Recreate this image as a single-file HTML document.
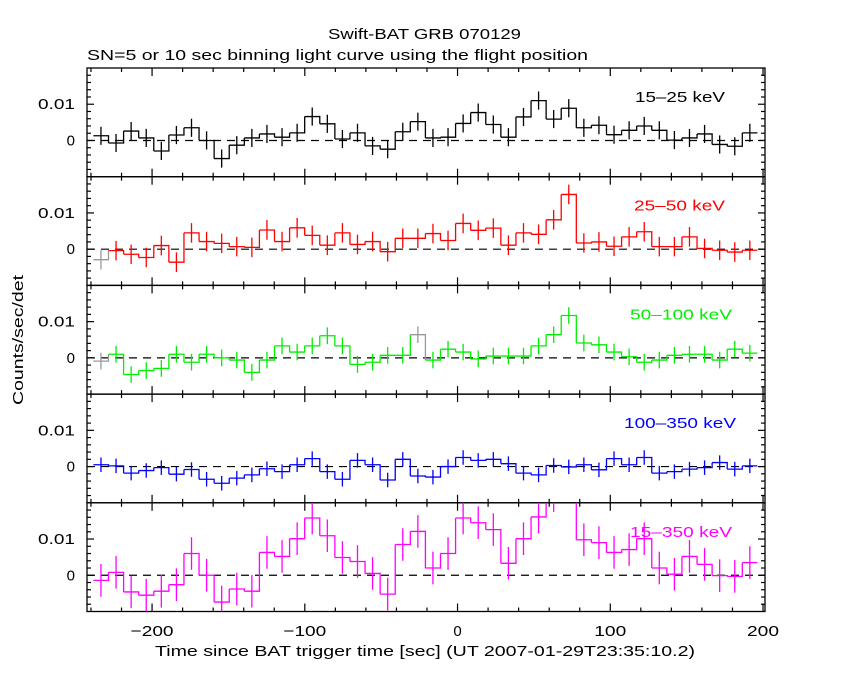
<!DOCTYPE html>
<html><head><meta charset="utf-8"><style>
body{margin:0;background:#fff;}
svg{display:block;font-family:"Liberation Sans",sans-serif;}
</style></head><body>
<svg id="c" width="850" height="680" xmlns="http://www.w3.org/2000/svg">
<text x="328" y="39" font-size="15" textLength="193" lengthAdjust="spacingAndGlyphs">Swift-BAT GRB 070129</text>
<text x="87" y="60" font-size="15" textLength="501" lengthAdjust="spacingAndGlyphs">SN=5 or 10 sec binning light curve using the flight position</text>
<text transform="translate(23,405) rotate(-90)" font-size="15" textLength="130" lengthAdjust="spacingAndGlyphs">Counts/sec/det</text>
<text x="155" y="656" font-size="15" textLength="540" lengthAdjust="spacingAndGlyphs">Time since BAT trigger time [sec] (UT 2007-01-29T23:35:10.2)</text>
<g id="plots"></g>
</svg>
<script>
const binStart = -238.4;
const binWidth = 9.88;
const xTicks = [-200, -100, 0, 100, 200];
const yTicks = [0, 0.01];
const bandLabels = ["15\u201325 keV", "25\u201350 keV", "50\u2013100 keV", "100\u2013350 keV", "15\u2013350 keV"];
const bandColors = ["#000000", "#ff0000", "#00ee00", "#0000ff", "#ff00ff"];
const band1 = [0.0013,-0.0007,0.0026,0.0007,-0.0029,0.0015,0.0035,0,-0.005,-0.0013,0.0007,0.0018,0.0009,0.0021,0.0066,0.0046,0.0004,0.0021,-0.0015,-0.0024,0.0024,0.0052,0.0007,0.0009,0.0047,0.0077,0.0044,0.0009,0.0065,0.011,0.0059,0.0089,0.0035,0.0042,0.0016,0.0028,0.004,0.0028,0.0001,0.0007,0.0018,-0.0011,-0.0016,0.0021];
const band2 = [-0.0029,-0.0004,-0.0014,-0.0023,0.001,-0.0036,0.0045,0.0021,0.0016,0.0007,0.0005,0.0053,0.0021,0.0059,0.0038,0.0011,0.0045,0.0013,0.0021,-0.0007,0.003,0.003,0.0043,0.0024,0.0071,0.0052,0.0058,0.0011,0.0045,0.0041,0.0081,0.0151,0.0017,0.002,0.0008,0.0034,0.0048,0.0007,0.0007,0.0034,0.0002,-0.0003,-0.0008,-0.0003];
const band3 = [-0.0009,0.001,-0.0046,-0.0035,-0.0029,0.001,-0.0012,0.001,0,-0.0006,-0.004,-0.0006,0.0033,0.0016,0.0033,0.0061,0.0033,-0.0018,-0.0012,0.0007,0.0007,0.0064,-0.0006,0.0024,0.0016,-0.0003,0.0005,0.0005,0.0005,0.0033,0.0064,0.0117,0.0041,0.0036,0.0016,0.0003,-0.0012,-0.0006,0.0007,0.001,0.001,-0.0006,0.0024,0.0013];
const band4 = [0.0005,0.0002,-0.0018,-0.0011,-0.0003,-0.0021,-0.0008,-0.0035,-0.0046,-0.0032,-0.0023,-0.0006,-0.0014,0.0005,0.0022,-0.0014,-0.0035,0.0017,0.0005,-0.0037,0.002,-0.0026,-0.0029,0,0.0025,0.0017,0.002,0.0008,-0.0018,-0.0023,0.0003,-0.0001,0.0005,-0.0009,0.0022,0.0005,0.0025,-0.0018,-0.0014,-0.0007,-0.0003,0.0011,-0.0007,0.0002];
const band5 = [-0.0014,0.0008,-0.0046,-0.0055,-0.0044,-0.0026,0.006,0,-0.0074,-0.0038,-0.0044,0.0063,0.0052,0.0101,0.0158,0.0109,0.0049,0.0038,0.0005,-0.0052,0.0085,0.0121,0.002,0.006,0.0158,0.0145,0.0126,0.0033,0.0101,0.0161,0.022,0.025,0.0098,0.009,0.0063,0.0071,0.0101,0.002,0.0003,0.0052,0.003,-0.0001,-0.0003,0.0035];
const bandErrors = [0.0025, 0.0027, 0.0023, 0.002, 0.0045];
const grayBins = [[], [0], [0, 21], [], []];
const series = [band1, band2, band3, band4, band5];

const NS = "http://www.w3.org/2000/svg";
const X0 = 87, X1 = 765, TMIN = -242.6, TMAX = 201.3;
const PTOP = [68, 176.7, 285.4, 394.1, 502.8], PH = 108.7, YMIN = -0.01, YMAX = 0.02;
const labelX = [635, 634, 630, 624, 630];
const labelW = [90, 91, 102, 112, 102];
function xs(t){ return X0 + (t - TMIN) / (TMAX - TMIN) * (X1 - X0); }
function ys(p, v){ return PTOP[p] + (YMAX - v) / (YMAX - YMIN) * PH; }
function mk(tag, attrs, parent){
  const e = document.createElementNS(NS, tag);
  for (const k in attrs) e.setAttribute(k, attrs[k]);
  parent.appendChild(e); return e;
}
const root = document.getElementById('plots');
for (let p = 0; p < 5; p++) {
  const g = mk('g', {}, root);
  
  
  const top = PTOP[p], bot = top + PH;
  const fr = mk('rect', {x: X0, y: top, width: X1 - X0, height: PH, fill: 'none', stroke: '#000', 'stroke-width': 1.3}, g);
  
  
  for (let t = -240; t <= 200; t += 20) {
    const x = xs(t), L = (t % 100 === 0) ? 8 : 4;
    mk('line', {x1: x, x2: x, y1: top, y2: top + L, stroke: '#000', 'stroke-width': 1.2}, g);
    mk('line', {x1: x, x2: x, y1: bot, y2: bot - L, stroke: '#000', 'stroke-width': 1.2}, g);
  }
  for (let k = -5; k <= 10; k++) {
    const v = k * 0.002, y = ys(p, v);
    if (y < top + 0.5 || y > bot - 0.5) continue;
    const L = (k % 5 === 0) ? 7 : 4;
    mk('line', {x1: X0, x2: X0 + L, y1: y, y2: y, stroke: '#000', 'stroke-width': 1.2}, g);
    mk('line', {x1: X1, x2: X1 - L, y1: y, y2: y, stroke: '#000', 'stroke-width': 1.2}, g);
  }
  yTicks.forEach(v => {
    const tl = mk('text', {x: 75, y: ys(p, v) + 5, 'font-size': 15, 'text-anchor': 'end'}, g);
    
    
    if (v !== 0) { tl.setAttribute('textLength', 37); tl.setAttribute('lengthAdjust', 'spacingAndGlyphs'); }
    tl.textContent = v === 0 ? '0' : '0.01';
  });
  const z = mk('line', {x1: X0, x2: X1, y1: ys(p, 0), y2: ys(p, 0), stroke: '#000', 'stroke-width': 1.2, 'stroke-dasharray': '8,6'}, g);
  
  
  const cid = 'clip' + p;
  const cp = mk('clipPath', {id: cid}, g);
  mk('rect', {x: X0, y: top, width: X1 - X0, height: PH}, cp);
  const dg = mk('g', {'clip-path': 'url(#' + cid + ')'}, g);
  const vals = series[p], err = bandErrors[p];
  for (let i = 0; i < vals.length; i++) {
    const t0 = binStart + i * binWidth, t1 = t0 + binWidth;
    const col = grayBins[p].includes(i) ? '#999999' : bandColors[p];
    const y = ys(p, vals[i]);
    let d = 'M' + xs(t0) + ' ' + y + 'H' + xs(t1);
    if (i + 1 < vals.length) d += 'V' + ys(p, vals[i + 1]);
    const s = mk('path', {d: d, fill: 'none', stroke: col, 'stroke-width': 1.3}, dg);
    
    
    const xc = xs((t0 + t1) / 2);
    const e = mk('line', {x1: xc, x2: xc, y1: ys(p, vals[i] + err), y2: ys(p, vals[i] - err), stroke: col, 'stroke-width': 1.3}, dg);
    
    
  }
  const lb = mk('text', {x: labelX[p], y: top + 34, 'font-size': 15, fill: bandColors[p], textLength: labelW[p], lengthAdjust: 'spacingAndGlyphs'}, g);
  
  
  lb.textContent = bandLabels[p];
}
xTicks.forEach(t => {
  const tl = mk('text', {x: xs(t), y: 636, 'font-size': 15, 'text-anchor': 'middle'}, root);
  
  
  if (t !== 0) { tl.setAttribute('textLength', t < 0 ? 43 : 32); tl.setAttribute('lengthAdjust', 'spacingAndGlyphs'); }
  tl.textContent = t < 0 ? '\u2212' + (-t) : String(t);
});
</script>
</body></html>
